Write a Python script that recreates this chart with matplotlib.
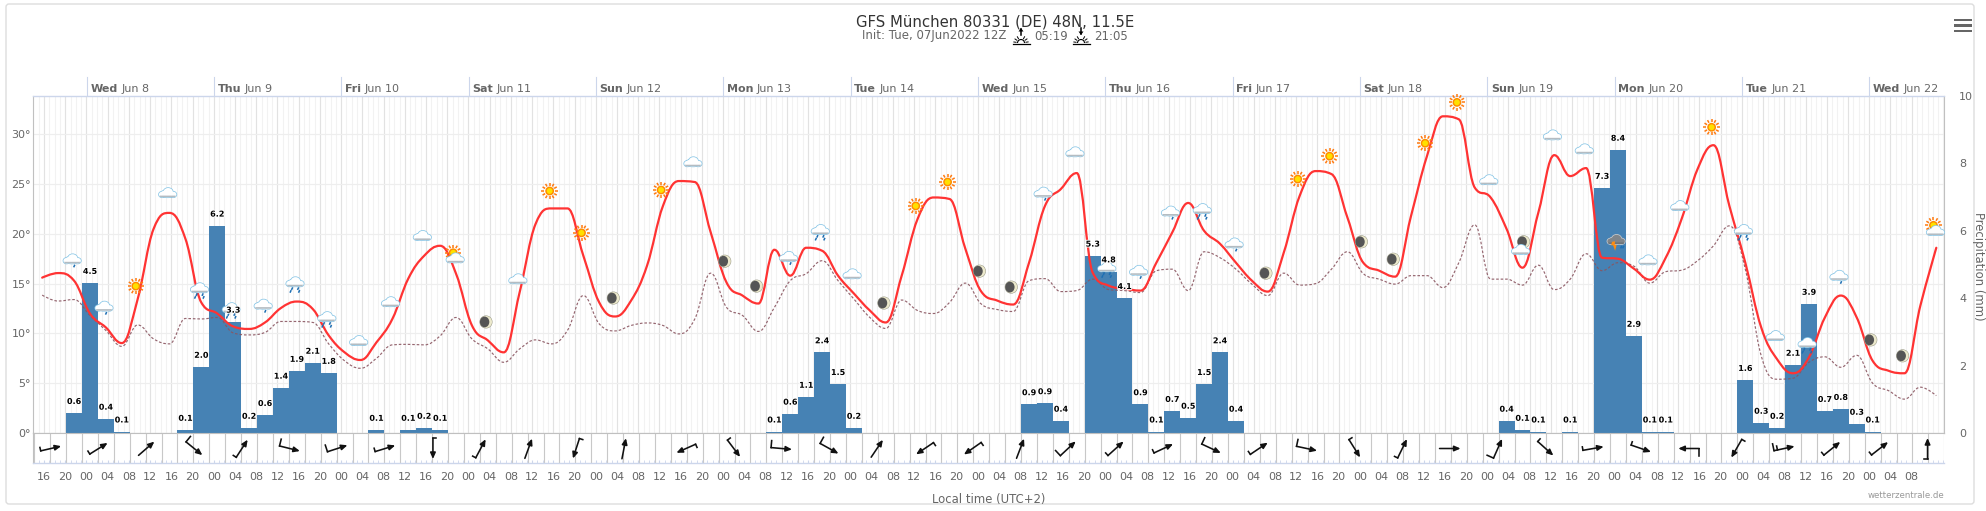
import matplotlib
matplotlib.use("Agg")
import matplotlib.pyplot as plt
import matplotlib.patheffects as pe
from matplotlib.path import Path
from matplotlib.patches import PathPatch, Ellipse, Polygon, Rectangle, FancyBboxPatch
import numpy as np

# ---------- data ----------
temp_c = [15.6,16.06,15.3,12.0,10.6,9.03,13.45,20.5,22.1,19.5,13.1,12.0,10.7,10.45,11.1,12.55,13.2,12.45,9.8,8.1,
          7.33,9.1,11.45,15.5,17.8,18.8,16.0,10.8,9.3,8.1,14.15,21.0,22.55,22.55,17.8,13.1,11.7,13.3,16.8,22.8,
          25.3,25.2,20.15,15.1,13.8,13.0,18.4,15.8,18.6,18.3,15.8,14.0,12.3,11.1,15.8,21.5,23.65,23.5,18.5,14.2,
          13.3,12.9,17.1,22.8,24.5,26.1,16.1,14.8,14.5,14.3,17.1,20.15,23.1,20.3,19.0,17.1,15.3,14.2,18.1,23.8,
          26.3,26.0,21.65,17.1,16.3,15.7,21.8,27.8,31.8,31.5,24.65,23.65,20.5,16.6,22.15,27.9,25.8,26.6,17.6,17.5,
          16.5,15.4,17.6,21.5,26.5,28.9,22.8,17.1,10.6,7.4,6.0,7.6,11.6,13.8,11.6,7.25,6.25,6.0,12.8,18.6]
dew_c = [13.85,13.25,13.4,11.8,10.3,8.7,10.85,9.45,8.95,11.5,11.45,11.6,10.05,9.85,10.1,11.2,11.2,11.1,8.95,7.25,
         6.5,7.5,8.85,8.9,8.85,9.75,11.6,9.45,8.45,7.1,8.45,9.35,8.95,10.3,13.8,10.95,10.25,10.8,11.05,10.8,
         9.95,11.45,16.05,12.6,11.8,10.2,12.6,15.3,16.0,17.3,15.3,13.45,11.6,10.5,13.35,12.3,12.0,13.1,15.05,12.95,
         12.4,12.2,15.3,15.5,14.2,14.3,15.45,14.4,14.3,14.1,16.3,16.45,14.3,18.2,17.6,16.45,14.95,13.8,16.05,14.85,
         15.0,16.45,18.2,16.0,15.45,14.95,15.8,15.8,14.6,17.1,20.9,15.45,15.45,14.85,16.85,14.4,15.45,18.0,16.3,17.1,
         16.75,15.05,16.2,16.35,17.3,18.8,20.8,16.45,7.75,5.4,5.5,7.1,7.65,6.6,7.8,5.0,4.25,3.4,4.6,3.75]
series_steps = list(range(-3, 117))

precip_steps = [-1,0,1,2,6,7,8,9,10,11,12,13,14,15,18,20,21,22,
                43,44,45,46,47,48,59,60,61,63,64,65,66,67,68,69,70,71,72,
                89,90,91,93,95,96,97,98,99,104,105,106,107,108,109,110,111,112]
precip_mm = [0.59,4.45,0.42,0.04,0.09,1.96,6.15,3.3,0.15,0.53,1.34,1.84,2.08,1.78,0.09,0.09,0.15,0.09,
             0.04,0.57,1.07,2.39,1.45,0.15,0.85,0.88,0.36,5.26,4.79,4.0,0.85,0.04,0.65,0.45,1.45,2.39,0.36,
             0.36,0.09,0.04,0.04,7.27,8.4,2.88,0.04,0.04,1.57,0.3,0.15,2.02,3.83,0.65,0.71,0.27,0.04]
precip_labels = ["0.6","4.5","0.4","0.1","0.1","2.0","6.2","3.3","0.2","0.6","1.4","1.9","2.1","1.8","0.1","0.1","0.2","0.1",
                 "0.1","0.6","1.1","2.4","1.5","0.2","0.9","0.9","0.4","5.3","4.8","4.1","0.9","0.1","0.7","0.5","1.5","2.4","0.4",
                 "0.4","0.1","0.1","0.1","7.3","8.4","2.9","0.1","0.1","1.6","0.3","0.2","2.1","3.9","0.7","0.8","0.3","0.1"]

day_names = ["Wed","Thu","Fri","Sat","Sun","Mon","Tue","Wed","Thu","Fri","Sat","Sun","Mon","Tue","Wed"]
day_dates = ["Jun 8","Jun 9","Jun 10","Jun 11","Jun 12","Jun 13","Jun 14","Jun 15","Jun 16","Jun 17",
             "Jun 18","Jun 19","Jun 20","Jun 21","Jun 22"]
hour_names = ["16","20","00","04","08","12"]

wind_angle = [13,32,41,-39,57,-14,18,17,-90,62,70,252,79,204,-53,-5,-29,56,214,215,
              69,43,42,25,-25,34,-12,-58,64,0,66,-42,10,-19,180,240,12,39,38,90]
wind_barb = [1,1,0,2,1,2,2,1,1,1,0,1,0,1,1,2,2,0,1,1,
             0,2,1,1,2,1,2,1,1,0,2,1,1,1,2,1,3,1,1,1]

icon_kind = ["rain1","rain1","sun","cloud","rain3","rain3","rain1","rain3","rain3","cloud",
             "cloud","cloud","suncloud","moon","cloud","sun","sun","moon","sun","cloud",
             "moon","moon","rain1","rain3","cloud","moon","sun","sun","moon","moon",
             "rain1","cloud","rain3","rain1","rain1","rain3","rain1","moon","sun","sun",
             "moon","moon","sun","sun","cloud","mooncloud","cloud","cloud","thunder","cloud",
             "cloud","sun","rain3","cloud","rain3","rain1","moon","moon","suncloud"]
icon_level = [17.3,12.55,14.75,24.1,14.35,12.35,12.75,14.95,11.45,9.25,
              13.15,19.8,17.75,11.15,15.45,24.3,20.1,13.55,24.4,27.2,
              17.25,14.75,17.55,20.2,15.95,13.05,22.8,25.2,16.25,14.65,
              24.0,28.2,16.45,16.15,22.1,22.3,18.9,16.05,25.5,27.8,
              19.2,17.45,29.1,33.2,25.4,18.8,29.9,28.5,19.2,17.35,
              22.8,30.7,20.2,9.75,8.85,15.65,9.35,7.75,20.5]

# ---------- layout ----------
W, H = 1986, 511
L, R, T, B = 33, 1944, 96, 433
STRIP = 463
XMIN, XMAX = -10.08, 350.1
PXH = (R - L) / (XMAX - XMIN)
YMAX = 33.84
PXT = (B - T) / YMAX
GREY = "#666666"
FS = 8.0
plt.rcParams["font.family"] = "DejaVu Sans"

def step_hour(k):
    return 0.65 + 3 * k

fig = plt.figure(figsize=(W / 100, H / 100), dpi=100, facecolor="white")
def rect(l, t, r, b):
    return [l / W, (H - b) / H, (r - l) / W, (b - t) / H]

ov = fig.add_axes([0, 0, 1, 1], zorder=0)
ov.set_xlim(0, W); ov.set_ylim(H, 0); ov.axis("off")
ov.add_patch(FancyBboxPatch((6, 4), 1968, 500, boxstyle="round,pad=0,rounding_size=3",
                            fc="white", ec="#dddddd", lw=1.0))

# grid axes (bottom)
ax = fig.add_axes(rect(L, T, R, B), zorder=1)
ax.set_xlim(XMIN, XMAX); ax.set_ylim(0, YMAX)
ax.set_xticks(np.arange(-10, 351), minor=True)
ax.set_xticks(np.arange(0, 337, 24))
ax.set_xticklabels([])
ax.set_yticks([0, 5, 10, 15, 20, 25, 30])
ax.set_yticklabels([f"{v}°" for v in [0, 5, 10, 15, 20, 25, 30]], color=GREY, fontsize=FS)
ax.tick_params(axis="y", length=0, pad=1.5)
ax.tick_params(axis="x", which="both", length=0)
ax.grid(True, axis="x", which="minor", color="#f2f2f2", lw=0.75)
ax.grid(True, axis="x", which="major", color="#e2e2e2", lw=0.85)
ax.grid(True, axis="y", color="#eeeeee", lw=0.85)
ax.set_axisbelow(True)
ax.spines["top"].set_color("#ccd6eb"); ax.spines["top"].set_linewidth(1.0)
ax.spines["bottom"].set_color("#c0c0c0")
ax.spines["left"].set_color("#c0c0c0"); ax.spines["right"].set_color("#c0c0c0")

# precipitation axes
pax = fig.add_axes(rect(L, T, R, B), zorder=2, sharex=ax)
pax.patch.set_visible(False)
pax.set_ylim(0, 10)
pax.yaxis.tick_right()
pax.set_yticks(range(0, 11, 2))
pax.set_yticklabels([str(v) for v in range(0, 11, 2)], color=GREY, fontsize=FS, ha="left")
pax.tick_params(axis="y", length=0, pad=11)
pax.tick_params(axis="x", which="both", length=0, labelbottom=False)
for s in pax.spines.values():
    s.set_visible(False)
precip_hours = [step_hour(k) for k in precip_steps]
pax.bar(precip_hours, precip_mm, width=3.0, color="#4682b4", linewidth=0, zorder=2)

# temperature axes (top)
tax = fig.add_axes(rect(L, T, R, B), zorder=3, sharex=ax, sharey=ax)
tax.axis("off")

def spline_path(xs, ys):
    n = len(xs)
    verts = [(xs[0], ys[0])]
    codes = [Path.MOVETO]
    lc = [None] * n
    rc = [None] * n
    rc[0] = (xs[0], ys[0]); lc[-1] = (xs[-1], ys[-1])
    for i in range(1, n - 1):
        x, y = xs[i], ys[i]
        lx = (1.5 * x + xs[i - 1]) / 2.5; ly = (1.5 * y + ys[i - 1]) / 2.5
        rx = (1.5 * x + xs[i + 1]) / 2.5; ry = (1.5 * y + ys[i + 1]) / 2.5
        c = (ry - ly) * (rx - x) / (rx - lx) + y - ry
        ly += c; ry += c
        if ly > y and ly > ys[i - 1]:
            ly = max(ys[i - 1], y); ry = 2 * y - ly
        elif ly < y and ly < ys[i - 1]:
            ly = min(ys[i - 1], y); ry = 2 * y - ly
        if ry > y and ry > ys[i + 1]:
            ry = max(ys[i + 1], y); ly = 2 * y - ry
        elif ry < y and ry < ys[i + 1]:
            ry = min(ys[i + 1], y); ly = 2 * y - ry
        lc[i] = (lx, ly); rc[i] = (rx, ry)
    for i in range(1, n):
        verts += [rc[i - 1], lc[i], (xs[i], ys[i])]
        codes += [Path.CURVE4] * 3
    return Path(verts, codes)

series_hours = [step_hour(k) for k in series_steps]
tax.add_patch(PathPatch(spline_path(series_hours, dew_c), fc="none", ec="#8a5560", lw=0.85,
                        ls=(0, (2.2, 1.6)), zorder=3, alpha=0.9))
tax.add_patch(PathPatch(spline_path(series_hours, temp_c), fc="none", ec="#ff3333", lw=1.6,
                        zorder=4, capstyle="round"))

# icons: sizes in pixels, converted to the data scale
def E(cx, cy, dx, dy, w, h, **kw):
    tax.add_patch(Ellipse((cx + dx / PXH, cy - dy / PXT), w / PXH, h / PXT, lw=0, clip_on=False, zorder=6, **kw))
def P(cx, cy, pts, **kw):
    kw.setdefault("lw", 0)
    tax.add_patch(Polygon([(cx + a / PXH, cy - b / PXT) for a, b in pts], clip_on=False, zorder=6, **kw))
def LN(cx, cy, a0, b0, a1, b1, color, lw):
    tax.plot([cx + a0 / PXH, cx + a1 / PXH], [cy - b0 / PXT, cy - b1 / PXT], color=color, lw=lw,
             zorder=6, clip_on=False, solid_capstyle="butt")

def cloud(cx, cy, dx=0, dy=0, edge="#86c5e6", top="#ffffff", band="#b4bcc2"):
    blobs = [(-5.5, 1.5, 6.5, 5.6), (5.5, 1.5, 6.5, 5.6), (0.5, -0.8, 9.5, 8.4), (-3.5, 0.5, 6, 5.5), (0, 2.0, 15, 4.6)]
    for a, b, w, h in blobs:
        E(cx, cy, dx + a, dy + b, w + 1.5, h + 1.5, fc=edge)
    for a, b, w, h in blobs:
        E(cx, cy, dx + a, dy + b, w, h, fc=top)
    P(cx, cy, [(dx - 8, dy + 2.6), (dx + 8, dy + 2.6), (dx + 7.5, dy + 4.2), (dx - 7.5, dy + 4.2)], fc=band)

def drops(cx, cy, pts, color="#1e6fb3"):
    for a, b in pts:
        LN(cx, cy, a + 0.7, b, a - 0.5, b + 2.6, color, 1.1)

def sun(cx, cy, dx=0, dy=0):
    for ang in np.arange(0, 360, 30):
        c, s = np.cos(np.radians(ang)), np.sin(np.radians(ang))
        LN(cx, cy, dx + 5.2 * c, dy + 5.2 * s, dx + 8.2 * c, dy + 8.2 * s, "#ff7a10", 1.1)
    E(cx, cy, dx, dy, 8.8, 8.8, fc="#ff8c00")
    E(cx, cy, dx, dy, 5.8, 5.8, fc="#ffe000")

def moon(cx, cy, dx=0, dy=0):
    E(cx, cy, dx, dy, 13, 13, fc="#9a9a88")
    E(cx, cy, dx, dy, 12, 12, fc="#ece9cc")
    E(cx, cy, dx - 1.4, dy, 9.4, 10.8, fc="#555555")

for i, (kind, lev) in enumerate(zip(icon_kind, icon_level)):
    h = -2.7 + 6 * i if i <= 17 else 0.3 + 6 * i
    if kind == "sun":
        sun(h, lev)
    elif kind == "moon":
        moon(h, lev)
    elif kind == "cloud":
        cloud(h, lev)
    elif kind == "rain1":
        cloud(h, lev, dy=-1.5)
        drops(h, lev, [(2, 4)])
    elif kind == "rain3":
        cloud(h, lev, dy=-2)
        drops(h, lev, [(-3, 3.2), (3, 3.2), (-4.5, 6), (4, 6)])
    elif kind == "suncloud":
        sun(h, lev, dx=-1, dy=-3.5)
        cloud(h, lev, dx=1, dy=2, top="#fdfdfd")
    elif kind == "mooncloud":
        moon(h, lev, dx=3, dy=-4)
        cloud(h, lev, dy=4)
    elif kind == "thunder":
        cloud(h, lev, edge="#c8ccd0", top="#80858a", band="#6f7478", dy=-2)
        P(h, lev, [(-4, 0), (-1, -0.5), (-1.5, 3), (0.5, 3), (-1, 9), (-3, 3.5), (-5, 3.5)], fc="#ff8c10")
        drops(h, lev, [(5, 4), (7, 4)])

# bar labels
for hr, v, lab in zip(precip_hours, precip_mm, precip_labels):
    tax.annotate(lab, xy=(hr, v), xycoords=pax.transData, xytext=(0, 8.4), textcoords="offset points",
                 ha="center", va="center", fontsize=5.8, fontweight="bold", color="black", zorder=8,
                 path_effects=[pe.withStroke(linewidth=1.3, foreground="white")], annotation_clip=False)

# day labels on the top axis
fig.canvas.draw()
rend = fig.canvas.get_renderer()
for i, (nm, dt) in enumerate(zip(day_names, day_dates)):
    hr = 24 * i
    ov.plot([86.5 + hr * PXH] * 2, [77, 96], color="#ccd6eb", lw=0.8, zorder=1)
    t1 = tax.annotate(nm, xy=(hr, YMAX), xytext=(2.7, 5.0), textcoords="offset points", ha="left", va="center",
                      fontsize=FS, fontweight="bold", color=GREY, annotation_clip=False)
    ext = t1.get_window_extent(rend)
    tax.annotate(dt, xy=(hr, YMAX), xytext=(2.7 + ext.width * 0.72 + 2.6, 5.0), textcoords="offset points",
                 ha="left", va="center", fontsize=FS, color=GREY, annotation_clip=False)

# wind strip
wax = fig.add_axes(rect(L, B, R, STRIP), zorder=2, sharex=ax)
wax.set_ylim(STRIP - B, 0)
wax.set_yticks([])
wax.vlines([step_hour(k) - 1.5 for k in range(-3, 118)], 0, STRIP - B, color="#c8c8c8", lw=0.8)
lab_hours = list(np.arange(-8, 345, 4))
wax.set_xticks(lab_hours)
wax.set_xticklabels([hour_names[j % 6] for j in range(len(lab_hours))], color=GREY, fontsize=FS)
wax.set_xticks(np.arange(-10, 351), minor=True)
wax.tick_params(axis="x", which="major", length=2.2, direction="in", color="#ccd6eb", pad=6.6)
wax.tick_params(axis="x", which="minor", length=2.2, direction="in", color="#ccd6eb")
for s in ["top", "left"]:
    wax.spines[s].set_color("#c0c0c0")
wax.spines["right"].set_visible(False)
wax.spines["bottom"].set_color("#ccd6eb"); wax.spines["bottom"].set_linewidth(1.0)
SH = 10.5
for n, (ang, barb) in enumerate(zip(wind_angle, wind_barb)):
    h0 = -6.7 + 9 * n if n <= 12 else -4 + 9 * n
    c, s = np.cos(np.radians(ang)), np.sin(np.radians(ang))
    ymid = 15.5
    tail = (h0 - SH * c / PXH, ymid + SH * s)
    head = (h0 + SH * c / PXH, ymid - SH * s)
    wax.annotate("", xy=head, xytext=tail,
                 arrowprops=dict(arrowstyle="-|>,head_length=0.45,head_width=0.2", color="#111111",
                                 lw=1.15, shrinkA=0, shrinkB=0, mutation_scale=8))
    if barb:
        lens = {1: 3.5, 2: 7.0, 3: 7.0}[barb]
        bc, bs = np.cos(np.radians(ang + 90)), np.sin(np.radians(ang + 90))
        wax.plot([tail[0], tail[0] + lens * bc / PXH], [tail[1], tail[1] - lens * bs], color="#111111", lw=1.15)
        if barb == 3:
            t2 = (tail[0] + 3.5 * c / PXH, tail[1] - 3.5 * s)
            wax.plot([t2[0], t2[0] + 4 * bc / PXH], [t2[1], t2[1] - 4 * bs], color="#111111", lw=1.15)

# titles and chrome
ov2 = fig.add_axes([0, 0, 1, 1], zorder=5)
ov2.set_xlim(0, W); ov2.set_ylim(H, 0); ov2.axis("off")
ov2.text(995, 21.7, "GFS München 80331 (DE) 48N, 11.5E", ha="center", va="center", fontsize=10.75, color="#333333")
ov2.text(862, 36, "Init: Tue, 07Jun2022 12Z", ha="left", va="center", fontsize=8.5, color=GREY)
ov2.text(1034, 36, "05:19", ha="left", va="center", fontsize=8.5, color=GREY)
ov2.text(1094, 36, "21:05", ha="left", va="center", fontsize=8.5, color=GREY)
for x0, up in [(1021, True), (1081, False)]:
    ov2.plot([x0 - 8.5, x0 + 8.5], [44.5, 44.5], color="black", lw=0.9)
    ov2.add_patch(Polygon([(x0 + 3.5 * np.cos(a), 43 - 3.5 * np.sin(a)) for a in np.linspace(0, np.pi, 12)],
                          closed=False, fc="none", ec="black", lw=0.8))
    for a in [0.15, 0.6, 1.05, 2.1, 2.55, 3.0]:
        ov2.plot([x0 + 5 * np.cos(a), x0 + 7.2 * np.cos(a)], [43 - 5 * np.sin(a), 43 - 7.2 * np.sin(a)],
                 color="black", lw=0.7)
    if up:
        ov2.plot([x0, x0], [35, 29], color="black", lw=1.1)
        ov2.add_patch(Polygon([(x0 - 2.5, 31.5), (x0 + 2.5, 31.5), (x0, 28)], fc="black", lw=0))
    else:
        ov2.plot([x0, x0], [28, 34], color="black", lw=1.1)
        ov2.add_patch(Polygon([(x0 - 2.5, 31.5), (x0 + 2.5, 31.5), (x0, 35)], fc="black", lw=0))
for y in [20, 25.5, 31]:
    ov2.add_patch(Rectangle((1954, y - 1.3), 18, 2.6, fc="#666666", lw=0))
ov2.text(989, 499, "Local time (UTC+2)", ha="center", va="center", fontsize=8.4, color=GREY)
ov2.text(1944, 496, "wetterzentrale.de", ha="right", va="center", fontsize=6.2, color="#999999")
ov2.text(1979, 266, "Precipitation (mm)", ha="center", va="center", rotation=270, fontsize=8.4, color=GREY)

fig.savefig("out.png", dpi=100)
